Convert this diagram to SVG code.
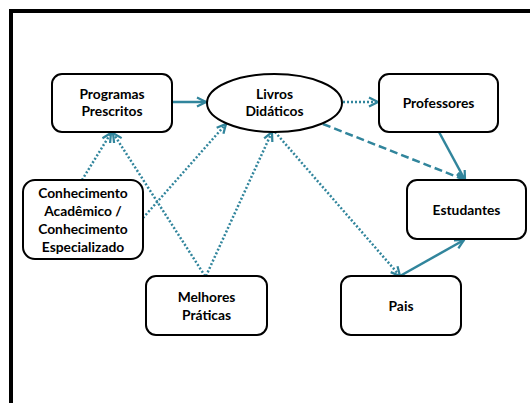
<svg xmlns="http://www.w3.org/2000/svg" width="530" height="403" viewBox="0 0 530 403">
  <style>
    .box { fill: #ffffff; stroke: #000000; stroke-width: 2; }
    .lbl { font-family: Lato, "Liberation Sans", sans-serif; font-weight: bold; font-size: 13.8px; fill: #000000; text-anchor: middle; }
    .solid { fill: none; stroke: #31859C; stroke-width: 2.5; marker-end: url(#arrow); }
    .dotted { fill: none; stroke: #31859C; stroke-width: 2.5; stroke-dasharray: 2 2; marker-end: url(#arrow); }
    .dashed { fill: none; stroke: #31859C; stroke-width: 2.5; stroke-dasharray: 8 4; marker-end: url(#arrow); }
  </style>
  <defs>
    <marker id="arrow" viewBox="0 0 10 10" refX="9" refY="5" markerWidth="4.5" markerHeight="4.5" orient="auto" markerUnits="strokeWidth">
      <path d="M1,1 L9,5 L1,9" fill="none" stroke="#31859C" stroke-width="2"/>
    </marker>
  </defs>

  <rect x="0" y="0" width="530" height="403" fill="#ffffff"/>
  <!-- outer frame -->
  <path d="M11,410 L11,11 L540,11" fill="none" stroke="#000000" stroke-width="4"/>

  <g id="connectors">
    <line class="solid" x1="172" y1="102" x2="206" y2="102"/>
    <line class="dotted" x1="343" y1="102" x2="378" y2="102"/>
    <line class="dashed" x1="323" y1="124" x2="465" y2="180"/>
    <line class="solid" x1="439" y1="132" x2="465" y2="180"/>
    <line class="solid" x1="400" y1="276" x2="464" y2="240"/>
    <line class="dotted" x1="82" y1="180" x2="111" y2="133"/>
    <line class="dotted" x1="143" y1="218" x2="226" y2="124"/>
    <line class="dotted" x1="205" y1="276" x2="113" y2="133"/>
    <line class="dotted" x1="206" y1="276" x2="272" y2="132"/>
    <line class="dotted" x1="275" y1="132" x2="400" y2="276"/>
  </g>

  <g id="programas">
    <rect class="box" x="52" y="74" width="120" height="58" rx="10"/>
    <text class="lbl" x="112" y="99">Programas</text>
    <text class="lbl" x="112" y="116">Prescritos</text>
  </g>
  <g id="livros">
    <ellipse class="box" cx="274.5" cy="103" rx="67.5" ry="29"/>
    <text class="lbl" x="274.5" y="99">Livros</text>
    <text class="lbl" x="274.5" y="116">Didáticos</text>
  </g>
  <g id="professores">
    <rect class="box" x="379" y="74" width="119" height="58" rx="10"/>
    <text class="lbl" x="438.5" y="108">Professores</text>
  </g>
  <g id="estudantes">
    <rect class="box" x="407" y="180" width="119" height="59" rx="10"/>
    <text class="lbl" x="466.5" y="215">Estudantes</text>
  </g>
  <g id="conhecimento">
    <rect class="box" x="23" y="180" width="120" height="79" rx="12"/>
    <text class="lbl" x="83" y="198">Conhecimento</text>
    <text class="lbl" x="83" y="216">Acadêmico /</text>
    <text class="lbl" x="83" y="234">Conhecimento</text>
    <text class="lbl" x="83" y="252">Especializado</text>
  </g>
  <g id="melhores">
    <rect class="box" x="146" y="276" width="121" height="59" rx="10"/>
    <text class="lbl" x="206.5" y="302">Melhores</text>
    <text class="lbl" x="206.5" y="320">Práticas</text>
  </g>
  <g id="pais">
    <rect class="box" x="341" y="276" width="120" height="59" rx="10"/>
    <text class="lbl" x="401" y="311">Pais</text>
  </g>
</svg>
